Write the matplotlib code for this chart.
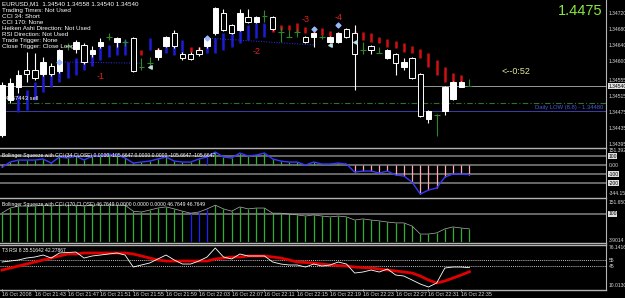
import matplotlib
matplotlib.use('Agg')
import matplotlib.pyplot as plt
from matplotlib.lines import Line2D
import numpy as np

W, H = 625, 298

# ---- price data (EURUSD M1), bars 0..57 = 21:39 .. 22:36 ----
opens = [1.34420, 1.34506, 1.34538, 1.34580, 1.34580, 1.34570, 1.34590, 1.34578, 1.34639, 1.34632,
         1.34642, 1.34620, 1.34639, 1.34662, 1.34649, 1.34649, 1.34659, 1.34588, 1.34597, 1.34612,
         1.34639, 1.34671, 1.34620, 1.34620, 1.34630, 1.34639, 1.34671, 1.34721, 1.34691, 1.34679,
         1.34711, 1.34699, 1.34713, 1.34711, 1.34674, 1.34662, 1.34674, 1.34662, 1.34662, 1.34662,
         1.34649, 1.34649, 1.34681, 1.34671, 1.34630, 1.34639, 1.34622, 1.34610, 1.34620, 1.34588,
         1.34610, 1.34570, 1.34459, 1.34469, 1.34479, 1.34508, 1.34538, 1.34540]
highs = [1.34550, 1.34560, 1.34580, 1.34625, 1.34622, 1.34612, 1.34597, 1.34632, 1.34647, 1.34654,
         1.34647, 1.34639, 1.34659, 1.34671, 1.34662, 1.34657, 1.34662, 1.34610, 1.34612, 1.34634,
         1.34664, 1.34679, 1.34625, 1.34625, 1.34637, 1.34664, 1.34736, 1.34731, 1.34694, 1.34731,
         1.34731, 1.34713, 1.34728, 1.34713, 1.34686, 1.34679, 1.34681, 1.34664, 1.34674, 1.34667,
         1.34664, 1.34674, 1.34684, 1.34691, 1.34649, 1.34642, 1.34637, 1.34632, 1.34622, 1.34610,
         1.34612, 1.34573, 1.34481, 1.34471, 1.34541, 1.34553, 1.34553, 1.34558]
lows = [1.34415, 1.34499, 1.34523, 1.34550, 1.34555, 1.34566, 1.34566, 1.34573, 1.34630, 1.34622,
        1.34595, 1.34612, 1.34634, 1.34654, 1.34637, 1.34639, 1.34575, 1.34580, 1.34590, 1.34605,
        1.34637, 1.34634, 1.34605, 1.34605, 1.34615, 1.34634, 1.34667, 1.34676, 1.34669, 1.34676,
        1.34696, 1.34696, 1.34699, 1.34679, 1.34649, 1.34662, 1.34662, 1.34647, 1.34637, 1.34657,
        1.34647, 1.34647, 1.34659, 1.34531, 1.34620, 1.34620, 1.34622, 1.34607, 1.34568, 1.34580,
        1.34558, 1.34464, 1.34449, 1.34417, 1.34469, 1.34506, 1.34538, 1.34540]
closes = [1.34543, 1.34548, 1.34568, 1.34570, 1.34560, 1.34600, 1.34570, 1.34630, 1.34639, 1.34649,
          1.34600, 1.34630, 1.34649, 1.34662, 1.34659, 1.34649, 1.34578, 1.34588, 1.34597, 1.34630,
          1.34662, 1.34639, 1.34610, 1.34607, 1.34620, 1.34659, 1.34733, 1.34679, 1.34671, 1.34721,
          1.34699, 1.34711, 1.34713, 1.34681, 1.34674, 1.34662, 1.34674, 1.34649, 1.34671, 1.34662,
          1.34662, 1.34671, 1.34662, 1.34620, 1.34630, 1.34630, 1.34622, 1.34630, 1.34597, 1.34600,
          1.34560, 1.34466, 1.34479, 1.34469, 1.34538, 1.34550, 1.34550, 1.34540]

# trailing sticks (bars 2..57)
stick_hi = [1.34518, 1.34531, 1.34550, 1.34568, 1.34580, 1.34592, 1.34600, 1.34610, 1.34617, 1.34630,
            1.34637, 1.34642, 1.34649, 1.34654, 1.34659, 1.34630, 1.34659, 1.34634, 1.34654, 1.34647,
            1.34654, 1.34637, 1.34637, 1.34654, 1.34659, 1.34671, 1.34671, 1.34684, 1.34691, 1.34696,
            1.34696, 1.34699, 1.34691, 1.34691, 1.34696, 1.34686, 1.34686, 1.34684, 1.34676, 1.34674,
            1.34681, 1.34676, 1.34674, 1.34671, 1.34662, 1.34657, 1.34652, 1.34647, 1.34639, 1.34632,
            1.34622, 1.34605, 1.34588, 1.34573, 1.34568, 1.34566]
stick_lo = [1.34476, 1.34481, 1.34506, 1.34526, 1.34538, 1.34550, 1.34560, 1.34568, 1.34580, 1.34590,
            1.34605, 1.34612, 1.34617, 1.34617, 1.34625, 1.34617, 1.34630, 1.34612, 1.34622, 1.34617,
            1.34622, 1.34625, 1.34622, 1.34622, 1.34622, 1.34630, 1.34637, 1.34647, 1.34654, 1.34659,
            1.34662, 1.34674, 1.34679, 1.34679, 1.34674, 1.34671, 1.34671, 1.34667, 1.34664, 1.34662,
            1.34662, 1.34659, 1.34654, 1.34649, 1.34647, 1.34637, 1.34634, 1.34625, 1.34622, 1.34610,
            1.34588, 1.34568, 1.34550, 1.34550, 1.34548, 1.34543]
stick_col = list('bbbbbbbbbbbbbbbrbrbbbrrbbbbbbbbrrrrrrrrrrrrrrrrrrrrrrrr')

bid = 1.34540
order_line = 1.34499
daily_low = 1.34480
price_ticks = [1.34720, 1.34680, 1.34640, 1.34600, 1.34555, 1.34515, 1.34475, 1.34435, 1.34395]

wave_labels = ['-1', '-2', '-3', '-4']
wave_pos = [(12, 1.34563), (31, 1.34625), (37, 1.34706), (41, 1.34711)]

info_lines = ['EURUSD,M1  1.34540 1.34558 1.34540 1.34540',
              'Trading Times: Not Used', 'CCI 34: Short', 'CCI 170: None',
              'Heiken Ashi Direction: Not Used', 'RSI Direction: Not Used',
              'Trade Trigger: None', 'Close Trigger: Close Long']

# ---- indicator data ----
cci34 = [-22, 33, 55, 55, 55, 67, 22, 89, 78, 100, 55, 100, 100, 122, 111, 78, 22, 33, 44, 67,
         89, 44, 33, 33, 67, 89, 144, 89, 78, 133, 100, 111, 133, 67, 44, 33, 33, 0, 33, 11,
         11, 22, 11, -78, -67, -67, -89, -67, -111, -122, -189, -322, -278, -255, -133, -100, -100, -106]
cci170 = [103, 120, 127, 127, 127, 130, 127, 130, 130, 130, 127, 130, 130, 130, 130, 130, 109, 106, 113, 120,
          124, 117, 109, 102, 106, 117, 130, 117, 109, 124, 117, 120, 120, 102, 102, 99, 96, 92, 96, 92,
          89, 92, 89, 78, 82, 78, 75, 71, 68, 68, 57, 29, 29, 33, 47, 54, 50, 47]
cci170_blue = [23, 24, 25]
t3_line = [38.3, 41.7, 45, 48.3, 51.7, 55, 58.3, 61.7, 65, 65, 66.7, 66.7, 66.7, 66.7, 66.7, 66.7, 65, 61.7, 58.3, 55,
           53.3, 53.3, 53.3, 53.3, 53.3, 53.3, 56.7, 58.3, 60, 60, 61.7, 61.7, 61.7, 60, 58.3, 55, 51.7, 50.8, 50, 48.3,
           46.7, 45.8, 45, 43.3, 42.5, 41.7, 40, 38.3, 36.7, 35, 33.3, 28.3, 21.7, 16.7, 20, 25, 30, 35.5]
rsi8 = [51.7, 53.3, 55, 58.3, 60, 63.3, 58.3, 66.7, 67.5, 68.3, 58.3, 61.7, 63.3, 65, 66.7, 63.3, 43.3, 46.7, 50, 56.7,
        63.3, 55, 48.3, 48.3, 53.3, 60, 75, 60, 56.7, 65, 61.7, 61.7, 61.7, 51.7, 48.3, 46.7, 46.7, 43.3, 48.3, 45,
        46.7, 51.7, 48.3, 33.3, 35, 38.3, 35, 40, 30, 28.3, 21.7, 15, 10, 16.7, 41.7, 43.3, 43.3, 42.3]

time_labels = ['16 Oct 2008', '16 Oct 21:43', '16 Oct 21:47', '16 Oct 21:51', '16 Oct 21:55',
               '16 Oct 21:59', '16 Oct 22:03', '16 Oct 22:07', '16 Oct 22:11', '16 Oct 22:15',
               '16 Oct 22:19', '16 Oct 22:23', '16 Oct 22:27', '16 Oct 22:31', '16 Oct 22:35']

plt.rcParams['font.family'] = ['Liberation Sans Narrow', 'DejaVu Sans Condensed', 'Liberation Sans']
FS_INFO = 4.5
FS_TITLE = 3.6

fig = plt.figure(figsize=(W / 100, H / 100), dpi=100, facecolor='black')


def rect(x0, y0, x1, y1):
    return [x0 / W, 1 - y1 / H, (x1 - x0) / W, (y1 - y0) / H]


XL = (-0.25, 73.65)


def panel(y0, y1, ylim):
    ax = fig.add_axes(rect(0, y0, 606, y1))
    ax.set_facecolor('black')
    ax.set_xlim(*XL)
    ax.set_ylim(*ylim)
    ax.axis('off')
    return ax


def right_label(ax, val, txt, boxed=False, color='#d8d8d8'):
    kw = dict(transform=ax.get_yaxis_transform(), fontsize=3.6, va='center', ha='left',
              color=color, clip_on=False)
    if boxed:
        kw['color'] = 'black'
        kw['bbox'] = dict(boxstyle='square,pad=0.1', fc='#e0e0e0', ec='none')
    ax.text(1.004, val, txt, **kw)


# ---- main chart ----
ax = panel(0, 147, (1.34390, 1.34753))
n = len(opens)
for i in range(n):
    o, h, l, c = opens[i], highs[i], lows[i], closes[i]
    if abs(o - c) < 1e-6:
        ax.vlines(i, l, h, color='#2a8a2a', lw=0.8, zorder=3)
        ax.hlines(o, i - 0.35, i + 0.35, color='#2a8a2a', lw=0.8, zorder=3)
    else:
        ax.vlines(i, l, h, color='white', lw=0.8, zorder=3)
        fc = 'white' if c > o else 'black'
        ax.bar(i, abs(c - o), bottom=min(o, c), width=0.66, color=fc,
               edgecolor='white', linewidth=0.7, zorder=4)

for k, (hi, lo, col) in enumerate(zip(stick_hi, stick_lo, stick_col)):
    ax.vlines(k + 2, lo, hi, color='#1c1cd8' if col == 'b' else '#d01010', lw=1.8, zorder=2)

ax.axhline(bid, color='#9a9a9a', lw=0.7, zorder=1)
ax.axhline(order_line, color='#2f6f2f', lw=0.8, ls=(0, (5, 2, 1, 2)), zorder=1)
ax.axhline(daily_low, color='#3c3ca8', lw=0.7, zorder=1)
ax.plot([7, 17], [1.34600, 1.34597], color='#3030ff', lw=0.7, ls=':', zorder=2)
ax.plot([25, 38], [1.34659, 1.34642], color='#3030ff', lw=0.7, ls=':', zorder=2)
ax.scatter([7, 25, 38, 41], [1.34600, 1.34659, 1.34681, 1.34691], s=6, marker='D',
           color='#9ab8ff', zorder=5)
ax.scatter([18, 40, 43], [1.34588, 1.34642, 1.34649], s=6, marker='<', color='#c0e0e0', zorder=5)

for lab, (bx, by) in zip(wave_labels, wave_pos):
    ax.text(bx, by, lab, color='#e02020', fontsize=6.5, ha='center', va='center',
            family='Liberation Sans')

for k, line in enumerate(info_lines):
    ax.text(0.004, 1 - (4 + 6.1 * k) / 147, line, transform=ax.transAxes, fontsize=FS_INFO,
            color='white', va='center', ha='left')
ax.text(0.004, 1 - 99 / 147, '#4457443 sell', transform=ax.transAxes, fontsize=4.2,
        color='white', va='center')
ax.text(0.995, 1 - 108 / 147, 'Daily LOW (8.8) - 1.34480', transform=ax.transAxes,
        fontsize=4.2, color='#4a5ad8', ha='right', va='center')
ax.text(0.995, 1 - 11 / 147, '1.4475', transform=ax.transAxes, fontsize=10.5,
        color='#86e83c', ha='right', va='center', family='Liberation Sans')
ax.text(502 / 606, 1 - 71 / 147, '<--0:52', transform=ax.transAxes, fontsize=6.5,
        color='#e6e6a0', ha='left', va='center', family='Liberation Sans')

for p in price_ticks:
    right_label(ax, p, f'{p:.5f}')
right_label(ax, bid, f'{bid:.5f}', boxed=True)

# ---- CCI 34 panel ----
ax2 = panel(149, 197, (-355, 178))
for lv in [100, 0, -100, -200]:
    ax2.axhline(lv, color='#7a7a7a', lw=1.2, zorder=1)
for i, v in enumerate(cci34):
    col = '#30b030' if v > 0 else '#ffaaaa'
    if i == 25:
        col = '#2020ff'
    ax2.vlines(i, 0, v, color=col, lw=0.9, zorder=2)
ax2.plot(np.arange(len(cci34)), cci34, color='#3838ff', lw=1.0, zorder=3)
ax2.text(0.004, 0.86, 'Bollinger Squeeze with CCI (34,CLOSE) 0.0000 -105.6647 0.0000 0.0000 -105.6647 -105.6647',
         transform=ax2.transAxes, fontsize=FS_TITLE, color='white', va='center')
right_label(ax2, 158, '151.392')
right_label(ax2, 100, '100', boxed=True)
right_label(ax2, 0, '0.00')
right_label(ax2, -100, '-100', boxed=True)
right_label(ax2, -200, '-200', boxed=True)
right_label(ax2, -320, '-344.158')

# ---- CCI 170 panel ----
ax3 = panel(199, 242, (1.15, 151.65))
ax3.axhline(100, color='#7a7a7a', lw=1.2, zorder=1)
for i, v in enumerate(cci170):
    col = '#2020ff' if i in cci170_blue else '#30b030'
    ax3.vlines(i, 0, v, color=col, lw=0.9, zorder=2)
ax3.plot(np.arange(len(cci170)), cci170, color='#b0b0b0', lw=0.5, zorder=3)
ax3.text(0.004, 0.88, 'Bollinger Squeeze with CCI (170,CLOSE) 46.7649 0.0000 0.0000 0.0000 46.7649 46.7649',
         transform=ax3.transAxes, fontsize=FS_TITLE, color='white', va='center')
right_label(ax3, 140, '151.650')
right_label(ax3, 100, '100', boxed=True)
right_label(ax3, 5, '3.9014')

# ---- T3 RSI panel ----
ax4 = panel(245, 289, (6.7, 80))
ax4.axhline(55, color='white', lw=0.5, ls=(0, (1.5, 1.5)))
ax4.axhline(45, color='white', lw=0.5, ls=(0, (1.5, 1.5)))
ax4.plot(np.arange(len(t3_line)), t3_line, color='#e00000', lw=2.0, zorder=2)
ax4.plot(np.arange(len(rsi8)), rsi8, color='white', lw=0.6, zorder=3)
ax4.text(0.004, 0.88, 'T3 RSI 8 35.51642 42.27867', transform=ax4.transAxes, fontsize=FS_TITLE,
         color='white', va='center')
right_label(ax4, 76.14, '76.1416')
right_label(ax4, 55, '55')
right_label(ax4, 45, '45')
right_label(ax4, 12, '10.0130')

# time axis labels
for k, lab in enumerate(time_labels):
    ax4.text(k * 4, -0.06, lab, transform=ax4.get_xaxis_transform(), fontsize=3.9,
             color='#d8d8d8', ha='left', va='top', clip_on=False)
    ax4.plot([k * 4, k * 4], [0.0, -0.05], transform=ax4.get_xaxis_transform(),
             color='#bbbbbb', lw=0.5, clip_on=False)

# separators and axis frame
for yy in [148, 198, 243, 244.5, 289.5]:
    fig.add_artist(Line2D([0, 606 / W], [1 - yy / H] * 2, color='#b4b4b4', lw=1.0))
fig.add_artist(Line2D([606 / W] * 2, [1 - 289.5 / H, 1], color='#b4b4b4', lw=0.8))

fig.savefig('out.png', dpi=100, facecolor='black')
